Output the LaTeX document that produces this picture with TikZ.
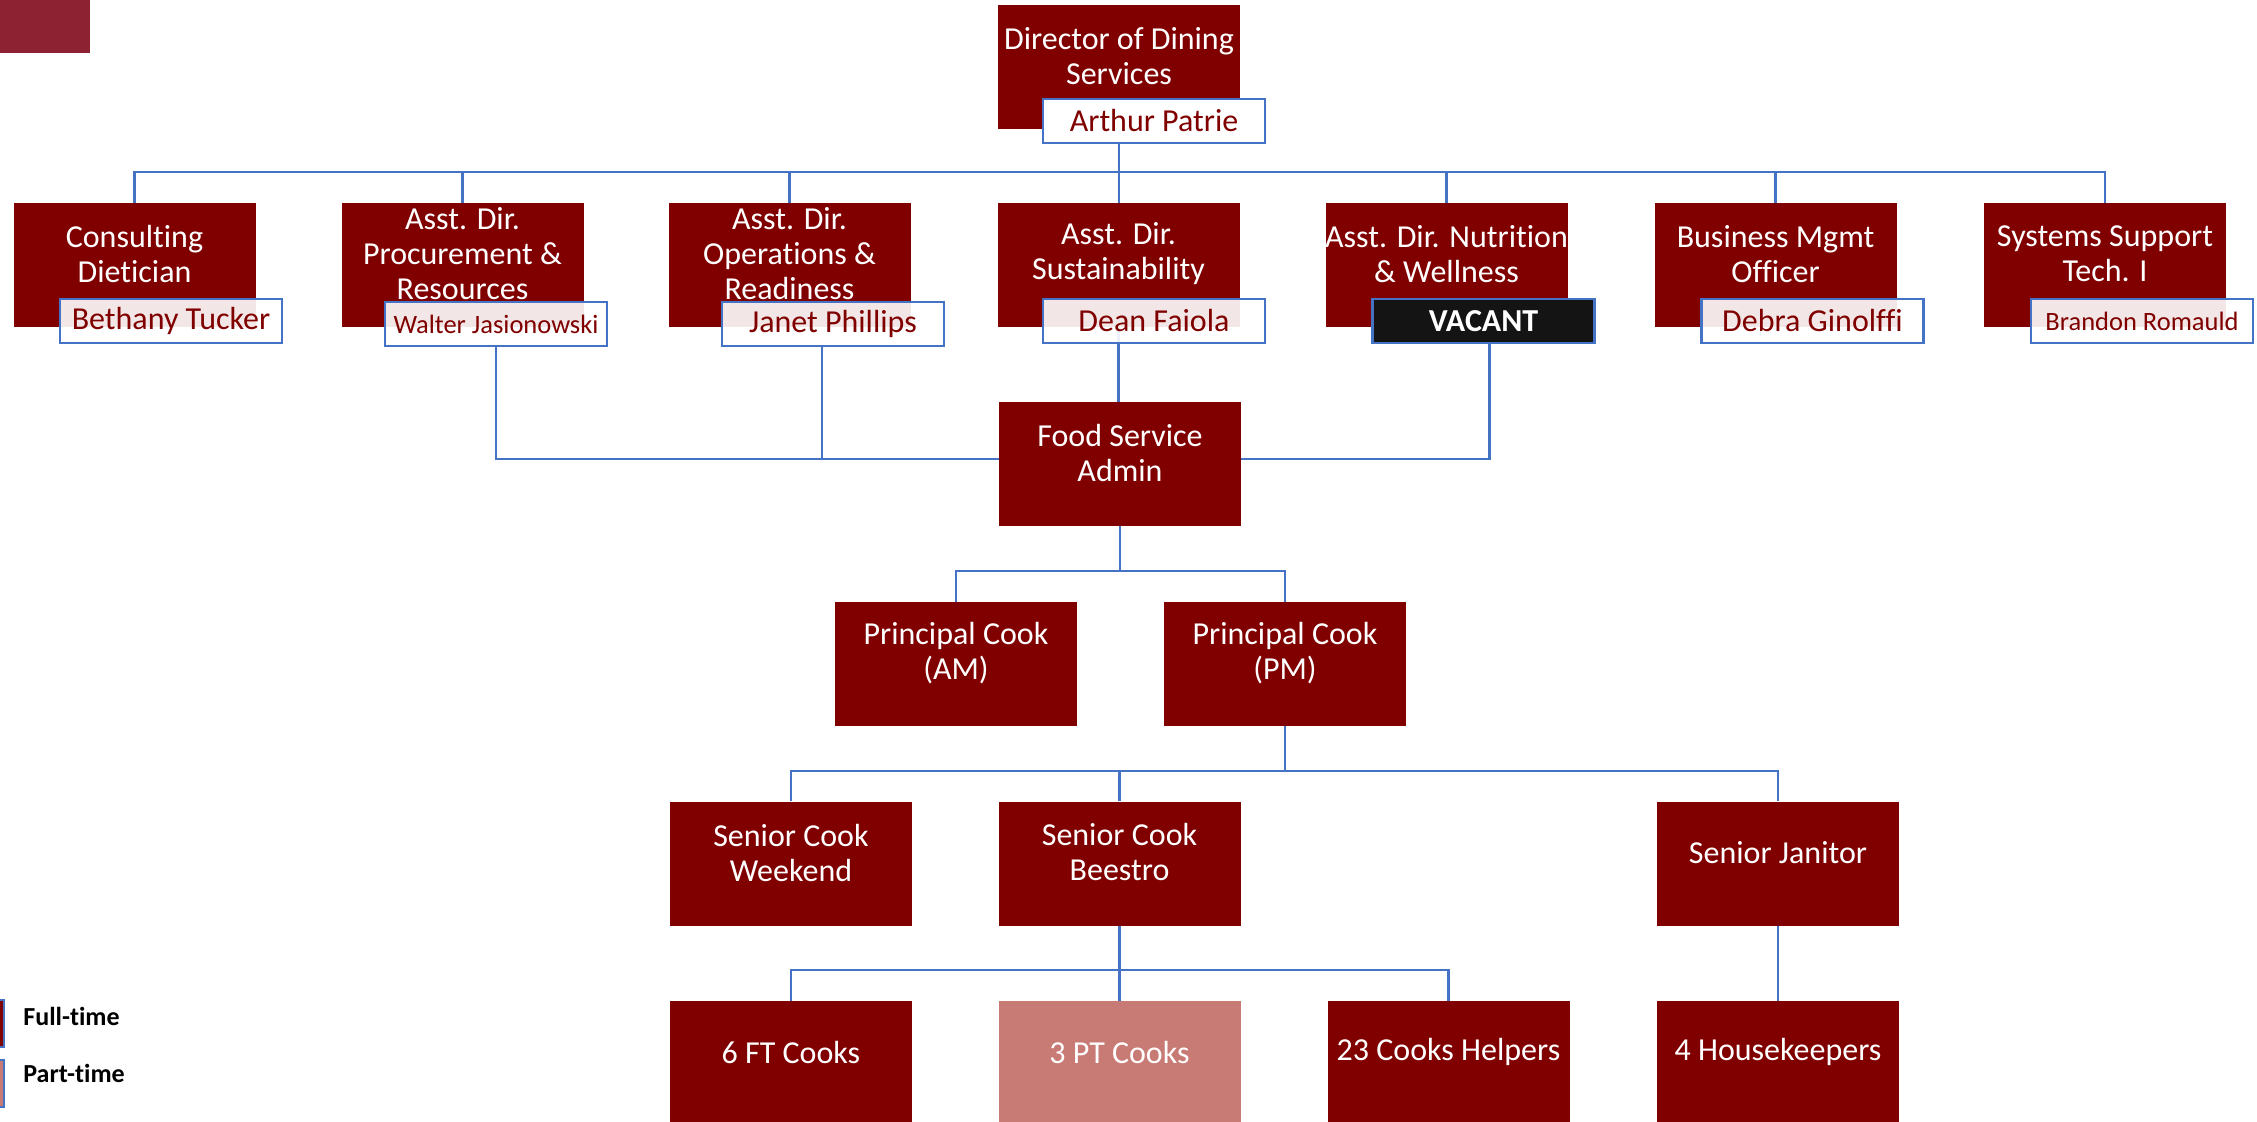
\documentclass[tikz,border=0pt]{standalone}
\usepackage{fontspec}
\setmainfont[Ligatures={NoCommon,NoContextual}]{Carlito}
\pgfdeclarelayer{bg}
\pgfsetlayers{bg,main}
\definecolor{boxred}{HTML}{800000}
\definecolor{linkblue}{HTML}{4472C4}
\definecolor{ptpink}{HTML}{C87A74}
\definecolor{topsq}{HTML}{8C2232}
\definecolor{namered}{HTML}{800000}
\definecolor{vacantfill}{HTML}{141414}
\tikzset{
  orgbox/.style={fill=boxred, draw=none, minimum width=121pt, minimum height=62pt, inner sep=0pt},
  ptbox/.style={orgbox, fill=ptpink},
  boxtext/.style={text=white, align=center, inner sep=0pt, font=\fontsize{16pt}{17.5pt}\selectfont},
  namebox/.style={draw=linkblue, line width=1.25pt, fill=white, fill opacity=0.9, text opacity=1, text=namered, minimum width=111pt, minimum height=22pt, inner sep=0pt, font=\fontsize{16pt}{17.5pt}\selectfont},
  smallname/.style={namebox, font=\fontsize{13.25pt}{15pt}\selectfont},
  vacbox/.style={namebox, fill=vacantfill, fill opacity=1, text=white, font=\fontsize{16pt}{17.5pt}\selectfont\bfseries},
  conn/.style={draw=linkblue, line width=1.1pt},
  legendtext/.style={anchor=west, inner sep=0pt, font=\fontsize{13pt}{15pt}\selectfont\bfseries}
}
\begin{document}
\begin{tikzpicture}[x=0.5pt, y=-0.5pt]
\clip (0,0) rectangle (2257,1122);
% top-left square
\fill[topsq] (0,0) rectangle (90,53);
% boxes
\node[orgbox] (dir) at (1119,67) {};
\node[orgbox] (cons) at (134.5,265) {};
\node[orgbox] (proc) at (462.5,265) {};
\node[orgbox] (ops) at (789.5,265) {};
\node[orgbox] (sust) at (1118.5,265) {};
\node[orgbox] (nutr) at (1446.5,265) {};
\node[orgbox] (bus) at (1775.5,265) {};
\node[orgbox] (sys) at (2105,265) {};
\node[orgbox] (fsa) at (1120,464) {};
\node[orgbox] (pam) at (956,664) {};
\node[orgbox] (ppm) at (1285,664) {};
\node[orgbox] (scw) at (791,863.5) {};
\node[orgbox] (scb) at (1119.5,863.5) {};
\node[orgbox] (sj) at (1778,863.5) {};
\node[orgbox] (ft) at (791,1063) {};
\node[ptbox] (pt) at (1119.5,1063) {};
\node[orgbox] (ch) at (1448.5,1063) {};
\node[orgbox] (hk) at (1778,1063) {};
% box texts
\node[boxtext] (dirT) at ([yshift=5.5pt]dir.center) {Director of Dining\\Services};
\node[boxtext] (consT) at ([yshift=5.5pt]cons.center) {Consulting\\Dietician};
\node[boxtext] (procT) at ([yshift=5.5pt]proc.center) {Asst. Dir.\\Procurement \&\\Resources};
\node[boxtext] (opsT) at ([yshift=5.5pt]ops.center) {Asst. Dir.\\Operations \&\\Readiness};
\node[boxtext] (sustT) at ([yshift=5.5pt]sust.center) {Asst. Dir.\\Sustainability};
\node[boxtext] (nutrT) at ([yshift=5.5pt]nutr.center) {Asst. Dir. Nutrition\\\& Wellness};
\node[boxtext] (busT) at ([yshift=5.5pt]bus.center) {Business Mgmt\\Officer};
\node[boxtext] (sysT) at ([yshift=5.5pt]sys.center) {Systems Support\\Tech. I};
\node[boxtext] (fsaT) at ([yshift=5.5pt]fsa.center) {Food Service\\Admin};
\node[boxtext] (pamT) at ([yshift=5.5pt]pam.center) {Principal Cook\\(AM)};
\node[boxtext] (ppmT) at ([yshift=5.5pt]ppm.center) {Principal Cook\\(PM)};
\node[boxtext] (scwT) at ([yshift=5.5pt]scw.center) {Senior Cook\\Weekend};
\node[boxtext] (scbT) at ([yshift=5.5pt]scb.center) {Senior Cook\\Beestro};
\node[boxtext] (sjT) at ([yshift=5.5pt]sj.center) {Senior Janitor};
\node[boxtext] (ftT) at ([yshift=5.5pt]ft.center) {6 FT Cooks};
\node[boxtext] (ptT) at ([yshift=5.5pt]pt.center) {3 PT Cooks};
\node[boxtext] (chT) at ([yshift=5.5pt]ch.center) {23 Cooks Helpers};
\node[boxtext] (hkT) at ([yshift=5.5pt]hk.center) {4 Housekeepers};
% name boxes
\node[namebox, fill opacity=1] (arthur) at (1154,121) {Arthur Patrie};
\node[namebox] (bethany) at (171,321) {Bethany Tucker};
\node[smallname] (walter) at (496,324) {Walter Jasionowski};
\node[namebox] (janet) at (833,324) {Janet Phillips};
\node[namebox] (dean) at (1154,321) {Dean Faiola};
\node[vacbox] (vacant) at (1483.5,321) {VACANT};
\node[namebox] (debra) at (1812.5,321) {Debra Ginolffi};
\node[smallname] (brandon) at (2142,321) {Brandon Romauld};
% connectors
\coordinate (bus1) at (1118,172);
\coordinate (bus2) at (1120,459);
\coordinate (bus3) at (1120,571);
\coordinate (bus4) at (1285,771);
\coordinate (bus5) at (1119.5,970);
\begin{pgfonlayer}{bg}
\draw[conn] (dir.south) -- (dir.south |- sust.north);
\draw[conn] (cons.north) |- (bus1) -| (sys.north);
\draw[conn] (proc.north) -- (proc.north |- bus1);
\draw[conn] (ops.north) -- (ops.north |- bus1);
\draw[conn] (nutr.north) -- (nutr.north |- bus1);
\draw[conn] (bus.north) -- (bus.north |- bus1);
\draw[conn] (walter.south) |- (bus2 -| fsa.west);
\draw[conn] ([xshift=-5.5pt]janet.south) -- ([xshift=-5.5pt]janet.south |- bus2);
\draw[conn] ([xshift=3pt]vacant.south) |- (bus2 -| fsa.east);
\draw[conn] (sust.south) -- (sust.south |- fsa.north);
\draw[conn] (fsa.south) -- (fsa.south |- bus3);
\draw[conn] (pam.north) |- (bus3 -| ppm.north) -- (ppm.north);
\draw[conn] (ppm.south) -- (bus4);
\draw[conn] (scw.north) |- (bus4 -| sj.north) -- (sj.north);
\draw[conn] (scb.north) -- (scb.north |- bus4);
\draw[conn] (scb.south) -- (bus5);
\draw[conn] (ft.north) |- (bus5 -| ch.north) -- (ch.north);
\draw[conn] (pt.north) -- (pt.north |- bus5);
\draw[conn] (sj.south) -- (hk.north);
\end{pgfonlayer}
% legend
\draw[fill=boxred, draw=linkblue, line width=1pt] (-30,1000) rectangle (4,1047);
\draw[fill=ptpink, draw=linkblue, line width=1pt] (-30,1060) rectangle (4,1107);
\node[legendtext] (ftl) at (23,1016) {Full-time};
\node[legendtext] (ptl) at (23,1073) {Part-time};
\end{tikzpicture}
\end{document}
